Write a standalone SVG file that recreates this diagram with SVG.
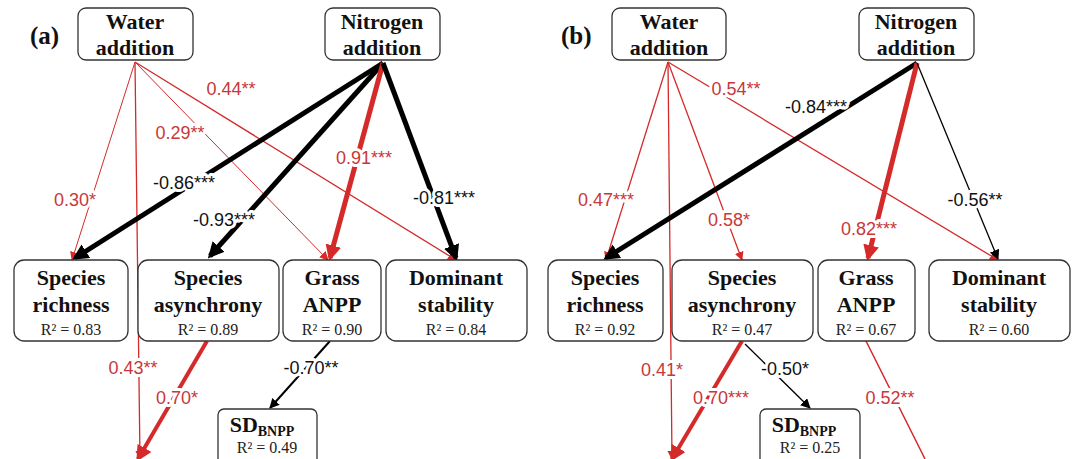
<svg xmlns="http://www.w3.org/2000/svg" width="1080" height="459" viewBox="0 0 1080 459">
<style>
.box{fill:#fff;stroke:#333;stroke-width:1.3}
.t{font-family:"Liberation Serif",serif;font-weight:bold;font-size:22px;text-anchor:middle;fill:#111}
.r{font-family:"Liberation Serif",serif;font-size:16px;text-anchor:middle;fill:#222}
.p{font-family:"Liberation Serif",serif;font-weight:bold;font-size:25px;fill:#111}
.l{font-family:"Liberation Sans",sans-serif;font-size:18px;text-anchor:middle;stroke:#fff;stroke-width:6;paint-order:stroke;stroke-linejoin:round}
.red{fill:#c8373a}.blk{fill:#111}
.cr{stroke:#d42a2a;fill:none}.cb{stroke:#000;fill:none}
</style>
<defs>
<marker id="ar" viewBox="0 0 10 10" refX="8" refY="5" markerWidth="16" markerHeight="16" orient="auto" markerUnits="userSpaceOnUse"><path d="M0,0L10,5L0,10z" fill="#d42a2a"/></marker>
<marker id="ab" viewBox="0 0 10 10" refX="8" refY="5" markerWidth="16" markerHeight="16" orient="auto" markerUnits="userSpaceOnUse"><path d="M0,0L10,5L0,10z" fill="#000"/></marker>
<marker id="arS" viewBox="0 0 10 10" refX="9" refY="5" markerWidth="9" markerHeight="9" orient="auto" markerUnits="userSpaceOnUse"><path d="M0,0L10,5L0,10z" fill="#d42a2a"/></marker>
<marker id="abS" viewBox="0 0 10 10" refX="9" refY="5" markerWidth="10" markerHeight="10" orient="auto" markerUnits="userSpaceOnUse"><path d="M0,0L10,5L0,10z" fill="#000"/></marker>
</defs>
<text class="p" x="30" y="44">(a)</text>
<text class="p" x="561" y="44">(b)</text>
<g id="connectors">
<line class="cr" x1="135" y1="62" x2="72" y2="260" stroke-width="1" marker-end="url(#arS)"/>
<line class="cr" x1="135" y1="62" x2="140" y2="459" stroke-width="1.3" marker-end="url(#arS)"/>
<line class="cr" x1="135" y1="62" x2="328" y2="260" stroke-width="1" marker-end="url(#arS)"/>
<line class="cr" x1="135" y1="62" x2="456" y2="260" stroke-width="1.3" marker-end="url(#arS)"/>
<line class="cb" x1="383" y1="63" x2="75" y2="258" stroke-width="5" marker-end="url(#ab)"/>
<line class="cb" x1="383" y1="63" x2="210" y2="256" stroke-width="5" marker-end="url(#ab)"/>
<line class="cr" x1="383" y1="63" x2="330" y2="258" stroke-width="5" marker-end="url(#ar)"/>
<line class="cb" x1="383" y1="63" x2="456" y2="258" stroke-width="5" marker-end="url(#ab)"/>
<line class="cr" x1="207" y1="341" x2="138" y2="459" stroke-width="4" marker-end="url(#ar)"/>
<line class="cb" x1="330" y1="341" x2="270" y2="408" stroke-width="2" marker-end="url(#abS)"/>
<line class="cr" x1="668" y1="62" x2="606" y2="260" stroke-width="1.3" marker-end="url(#arS)"/>
<line class="cr" x1="668" y1="62" x2="672" y2="459" stroke-width="1.3" marker-end="url(#arS)"/>
<line class="cr" x1="668" y1="62" x2="742" y2="260" stroke-width="1.3" marker-end="url(#arS)"/>
<line class="cr" x1="668" y1="62" x2="998" y2="260" stroke-width="1.3" marker-end="url(#arS)"/>
<line class="cb" x1="917" y1="63" x2="606" y2="258" stroke-width="5" marker-end="url(#ab)"/>
<line class="cr" x1="917" y1="63" x2="868" y2="258" stroke-width="5" marker-end="url(#ar)"/>
<line class="cb" x1="917" y1="63" x2="998" y2="259" stroke-width="1.3" marker-end="url(#abS)"/>
<line class="cr" x1="742" y1="341" x2="672" y2="459" stroke-width="4" marker-end="url(#ar)"/>
<line class="cb" x1="745" y1="344" x2="810" y2="408" stroke-width="1.3" marker-end="url(#abS)"/>
<line class="cr" x1="866" y1="341" x2="925" y2="459" stroke-width="1.5"/>
<text class="l red" x="75" y="206">0.30*</text>
<text class="l red" x="133" y="374">0.43**</text>
<text class="l red" x="180" y="139">0.29**</text>
<text class="l red" x="231" y="95">0.44**</text>
<text class="l blk" x="184" y="189">-0.86***</text>
<text class="l blk" x="224" y="226">-0.93***</text>
<text class="l red" x="364" y="164">0.91***</text>
<text class="l blk" x="444" y="204">-0.81***</text>
<text class="l red" x="177" y="404">0.70*</text>
<text class="l blk" x="311" y="374">-0.70**</text>
<text class="l red" x="606" y="206">0.47***</text>
<text class="l red" x="662" y="376">0.41*</text>
<text class="l red" x="729" y="226">0.58*</text>
<text class="l red" x="736" y="95">0.54**</text>
<text class="l blk" x="816" y="113">-0.84***</text>
<text class="l red" x="869" y="235">0.82***</text>
<text class="l blk" x="975" y="206">-0.56**</text>
<text class="l red" x="721" y="404">0.70***</text>
<text class="l blk" x="785" y="375">-0.50*</text>
<text class="l red" x="890" y="404">0.52**</text>
</g>
<g id="water-a"><rect class="box" x="78" y="8" width="115" height="52" rx="8"/><text class="t" x="135" y="29">Water</text><text class="t" x="135" y="55">addition</text></g>
<g id="nitrogen-a"><rect class="box" x="325" y="8" width="115" height="52" rx="8"/><text class="t" x="382" y="29">Nitrogen</text><text class="t" x="382" y="55">addition</text></g>
<g id="richness-a"><rect class="box" x="14" y="260" width="114" height="81" rx="10"/><text class="t" x="71" y="285">Species</text><text class="t" x="71" y="312">richness</text><text class="r" x="71" y="335">R² = 0.83</text></g>
<g id="asynchrony-a"><rect class="box" x="138" y="260" width="141" height="81" rx="10"/><text class="t" x="208" y="285">Species</text><text class="t" x="208" y="312">asynchrony</text><text class="r" x="208" y="335">R² = 0.89</text></g>
<g id="grass-a"><rect class="box" x="283" y="260" width="98" height="81" rx="10"/><text class="t" x="332" y="285">Grass</text><text class="t" x="332" y="312">ANPP</text><text class="r" x="332" y="335">R² = 0.90</text></g>
<g id="dominant-a"><rect class="box" x="386" y="260" width="141" height="81" rx="10"/><text class="t" x="456" y="285">Dominant</text><text class="t" x="456" y="312">stability</text><text class="r" x="456" y="335">R² = 0.84</text></g>
<g id="sd-a"><rect class="box" x="218" y="409" width="99" height="56" rx="6"/><text class="t" x="262" y="432">SD<tspan font-size="14" dy="4">BNPP</tspan></text><text class="r" x="267" y="453">R² = 0.49</text></g>
<g id="water-b"><rect class="box" x="612" y="8" width="114" height="52" rx="8"/><text class="t" x="669" y="29">Water</text><text class="t" x="669" y="55">addition</text></g>
<g id="nitrogen-b"><rect class="box" x="859" y="8" width="115" height="52" rx="8"/><text class="t" x="916" y="29">Nitrogen</text><text class="t" x="916" y="55">addition</text></g>
<g id="richness-b"><rect class="box" x="548" y="260" width="115" height="81" rx="10"/><text class="t" x="605" y="285">Species</text><text class="t" x="605" y="312">richness</text><text class="r" x="605" y="335">R² = 0.92</text></g>
<g id="asynchrony-b"><rect class="box" x="672" y="260" width="141" height="81" rx="10"/><text class="t" x="742" y="285">Species</text><text class="t" x="742" y="312">asynchrony</text><text class="r" x="742" y="335">R² = 0.47</text></g>
<g id="grass-b"><rect class="box" x="818" y="260" width="97" height="81" rx="10"/><text class="t" x="866" y="285">Grass</text><text class="t" x="866" y="312">ANPP</text><text class="r" x="866" y="335">R² = 0.67</text></g>
<g id="dominant-b"><rect class="box" x="929" y="260" width="141" height="81" rx="10"/><text class="t" x="999" y="285">Dominant</text><text class="t" x="999" y="312">stability</text><text class="r" x="999" y="335">R² = 0.60</text></g>
<g id="sd-b"><rect class="box" x="760" y="409" width="100" height="56" rx="6"/><text class="t" x="804" y="432">SD<tspan font-size="14" dy="4">BNPP</tspan></text><text class="r" x="810" y="453">R² = 0.25</text></g>
</svg>
